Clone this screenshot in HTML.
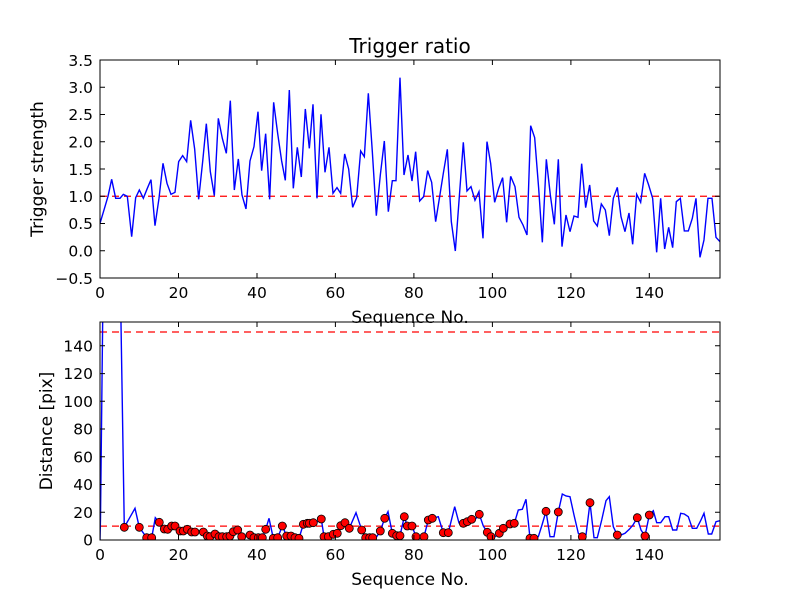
<!DOCTYPE html>
<html><head><meta charset="utf-8"><style>
body{margin:0;background:#fff;}
svg{display:block;font-family:"DejaVu Sans","Liberation Sans",sans-serif;}
</style></head><body>
<svg width="800" height="600" viewBox="0 0 800 600" xmlns="http://www.w3.org/2000/svg">
<rect width="800" height="600" fill="#fff"/>
<defs>
<clipPath id="c1"><rect x="100" y="60" width="620" height="218"/></clipPath>
<clipPath id="c2"><rect x="100" y="322" width="620" height="218"/></clipPath>
</defs>
<!-- TOP -->
<g clip-path="url(#c1)">
<line x1="100" y1="196.25" x2="720" y2="196.25" stroke="#f00" stroke-width="1.3" stroke-dasharray="7,5"/>
<g transform="translate(95,55) scale(0.3333)" fill="none" stroke="#00f">
<polyline vector-effect="non-scaling-stroke" stroke-width="1.4" points="15,505 27,465 39,424 50,373 62,430 75,430 85,418 97,424 110,545 122,428 133,405 145,430 157,400 168,374 180,512 192,430 204,325 216,385 228,418 240,412 251,320 263,302 275,320 287,196 299,282 311,433 323,320 334,206 346,350 358,422 370,190 382,250 394,295 406,137 418,405 430,312 441,420 453,462 465,318 477,275 489,170 500,347 512,236 524,433 536,142 548,235 560,318 571,376 583,105 595,400 607,277 619,366 631,162 643,280"/>
</g>
<g transform="translate(300,55) scale(0.3333)" fill="none" stroke="#00f">
<polyline vector-effect="non-scaling-stroke" stroke-width="1.4" points="28,280 39,148 51,430 63,178 75,352 87,277 99,415 111,398 122,415 134,297 146,342 158,457 170,428 182,288 193,305 205,115 217,290 229,482 241,360 253,258 265,470 277,377 288,377 300,68 312,360 324,300 336,378 347,290 359,438 371,425 383,347 395,382 407,500 419,425 430,355 442,283 454,500 466,588 478,425 490,262 501,408 513,395 525,436 537,410 549,550 561,260 572,325 584,442 596,400 608,368 620,502 632,364"/>
</g>
<g transform="translate(510,55) scale(0.3333)" fill="none" stroke="#00f">
<polyline vector-effect="non-scaling-stroke" stroke-width="1.4" points="2,364 15,395 27,487 39,510 51,540 62,212 74,248 86,400 97,562 109,313 121,420 133,508 145,313 156,575 168,480 180,530 192,483 204,487 215,326 227,458 239,390 251,498 262,513 274,447 286,465 298,542 310,430 322,397 333,485 345,530 357,474 368,568 380,418 392,442 404,355 416,390 428,430 440,592 452,430 464,582 476,517 488,578 499,440 511,430 523,528 535,528 547,490 558,430 570,607 582,555 594,430 606,430 618,547 630,560"/>
</g>
</g>
<rect x="100" y="60" width="620" height="218" fill="none" stroke="#000" stroke-width="1"/>
<g stroke="#000" stroke-width="1">
<path d="M100,60v5M100,278v-5M178.5,60v5M178.5,278v-5M257,60v5M257,278v-5M335.4,60v5M335.4,278v-5M413.9,60v5M413.9,278v-5M492.4,60v5M492.4,278v-5M570.9,60v5M570.9,278v-5M649.3,60v5M649.3,278v-5"/>
<path d="M100,87.25h5M720,87.25h-5M100,114.5h5M720,114.5h-5M100,141.75h5M720,141.75h-5M100,169h5M720,169h-5M100,196.25h5M720,196.25h-5M100,223.5h5M720,223.5h-5M100,250.75h5M720,250.75h-5"/>
</g>
<g font-size="15.5" text-anchor="end" fill="#000">
<text x="93" y="66">3.5</text><text x="93" y="93">3.0</text><text x="93" y="120">2.5</text><text x="93" y="147.5">2.0</text><text x="93" y="175">1.5</text><text x="93" y="202">1.0</text><text x="93" y="229">0.5</text><text x="93" y="256.5">0.0</text><text x="93" y="284">−0.5</text>
</g>
<g font-size="15.5" text-anchor="middle" fill="#000">
<text x="100" y="298">0</text><text x="178.5" y="298">20</text><text x="257" y="298">40</text><text x="335.4" y="298">60</text><text x="413.9" y="298">80</text><text x="492.4" y="298">100</text><text x="570.9" y="298">120</text><text x="649.3" y="298">140</text>
</g>
<g font-size="17" text-anchor="middle" fill="#000">
<text x="410" y="53" font-size="20">Trigger ratio</text>
<text x="410" y="323">Sequence No.</text>
<text x="410" y="585">Sequence No.</text>
<text transform="translate(43,169) rotate(-90)">Trigger strength</text>
<text transform="translate(52,431) rotate(-90)">Distance [pix]</text>
</g>
<!-- BOTTOM -->
<g clip-path="url(#c2)">
<line x1="100" y1="526.1" x2="720" y2="526.1" stroke="#f00" stroke-width="1.3" stroke-dasharray="7,5"/>
<line x1="100" y1="332" x2="720" y2="332" stroke="#f00" stroke-width="1.3" stroke-dasharray="7,5"/>
<polyline fill="none" stroke="#00f" stroke-width="1.4" points="100,540 100.5,518 104,200 119,200 124.3,527.3 135,508.3 139.3,527.3 146.7,537.7 151.7,537.7 155.3,517.7 159.3,522.3 164.3,529 167.7,529.3 171.7,526 175,526 180,531 183.3,531 187.3,529.3 191.7,532 195,532 199,532 203.3,532 207.3,536 210,536.7 215,534 219,536.7 222.3,536.7 226.7,536.7 230,536 233.3,531.7 237.7,530 241.7,536.7 246,536 250,535 254,537.7 258.3,537.7 262.3,537.7 265.7,529.3 269,518.3 273.3,538.3 277.7,537.7 282.3,526 286.7,536 291,536 295,537.7 299,538.3 303.3,524.3 307.3,523.3 309.3,523.3 313.3,522.7 317,522 321.3,519 324,536.7 328.3,536.7 333.3,534.3 337.3,533.3 340.7,525.7 345,522.7 349.3,528.3 356,512.7 361.7,530 365.7,537.7 369.7,537.7 372.7,537.7 376.5,537 380.3,531 384.7,518.3 388,511.7 392.3,533.3 396.7,535.7 400,535.7 404.3,516.7 407.3,526 412,526 416,536.7 420,536.7 424,536.7 428.3,520 432.3,518.3 438.3,516.7 443.3,532.7 448.3,532.7 454.7,506.7 459,523 463.3,523.3 467.3,521.7 471.7,519.3 475.5,519 479.3,514.3 483.3,526 487.3,532.3 491,536.7 495,536.7 499.3,533.3 503.3,528.3 507,525 510,524 514.3,523.3 518.3,510 522.3,509.3 526,499.3 530,538.3 534,538.3 538.3,536.7 542,525 546,511.3 550,536.7 554,536.7 558.3,512 562.3,494 566,496 570,496.7 574,515 578.3,533.3 582.3,536.7 586,535 590,502.7 594,537.7 597.3,537.7 601.7,520 606,500.7 609.3,496.7 613.3,526.7 617.3,535 621,535 625,533.3 629.3,529.3 633,525 637.3,517.7 641,530 645,536 649.3,515 653.3,510.7 656.7,522.7 660.7,522.7 665,516.7 668.7,516.7 672.7,530 676.7,530 680.7,513.3 684.3,514 688.3,516.7 692.3,528.3 696.7,528.3 700.5,521 704,513.3 708.3,534 711.7,534 716,521.7 720,520.7"/>
<g fill="#f00" stroke="#000" stroke-width="0.8">
<circle cx="124.3" cy="527.3" r="4"/><circle cx="139.3" cy="527.3" r="4"/><circle cx="146.7" cy="537.7" r="4"/><circle cx="151.7" cy="537.7" r="4"/><circle cx="159.3" cy="522.3" r="4"/><circle cx="164.3" cy="529" r="4"/><circle cx="167.7" cy="529.3" r="4"/><circle cx="171.7" cy="526" r="4"/><circle cx="175" cy="526" r="4"/><circle cx="180" cy="531" r="4"/><circle cx="183.3" cy="531" r="4"/><circle cx="187.3" cy="529.3" r="4"/><circle cx="191.7" cy="532" r="4"/><circle cx="195" cy="532" r="4"/><circle cx="203.3" cy="532" r="4"/><circle cx="207.3" cy="536" r="4"/><circle cx="210" cy="536.7" r="4"/><circle cx="215" cy="534" r="4"/><circle cx="219" cy="536.7" r="4"/><circle cx="222.3" cy="536.7" r="4"/><circle cx="226.7" cy="536.7" r="4"/><circle cx="230" cy="536" r="4"/><circle cx="233.3" cy="531.7" r="4"/><circle cx="237.7" cy="530" r="4"/><circle cx="241.7" cy="536.7" r="4"/><circle cx="250" cy="535" r="4"/><circle cx="254" cy="537.7" r="4"/><circle cx="258.3" cy="537.7" r="4"/><circle cx="262.3" cy="537.7" r="4"/><circle cx="265.7" cy="529.3" r="4"/><circle cx="273.3" cy="538.3" r="4"/><circle cx="277.7" cy="537.7" r="4"/><circle cx="282.3" cy="526" r="4"/><circle cx="286.7" cy="536" r="4"/><circle cx="291" cy="536" r="4"/><circle cx="295" cy="537.7" r="4"/><circle cx="299" cy="538.3" r="4"/><circle cx="303.3" cy="524.3" r="4"/><circle cx="307.3" cy="523.3" r="4"/>
<circle cx="309.3" cy="523.3" r="4"/><circle cx="313.3" cy="522.7" r="4"/><circle cx="321.3" cy="519" r="4"/><circle cx="324" cy="536.7" r="4"/><circle cx="328.3" cy="536.7" r="4"/><circle cx="333.3" cy="534.3" r="4"/><circle cx="337.3" cy="533.3" r="4"/><circle cx="340.7" cy="525.7" r="4"/><circle cx="345" cy="522.7" r="4"/><circle cx="349.3" cy="528.3" r="4"/><circle cx="361.7" cy="530" r="4"/><circle cx="365.7" cy="537.7" r="4"/><circle cx="369.7" cy="537.7" r="4"/><circle cx="372.7" cy="537.7" r="4"/><circle cx="380.3" cy="531" r="4"/><circle cx="384.7" cy="518.3" r="4"/><circle cx="392.3" cy="533.3" r="4"/><circle cx="396.7" cy="535.7" r="4"/><circle cx="400" cy="535.7" r="4"/><circle cx="404.3" cy="516.7" r="4"/><circle cx="407.3" cy="526" r="4"/><circle cx="412" cy="526" r="4"/><circle cx="416" cy="536.7" r="4"/><circle cx="424" cy="536.7" r="4"/><circle cx="428.3" cy="520" r="4"/><circle cx="432.3" cy="518.3" r="4"/><circle cx="443.3" cy="532.7" r="4"/><circle cx="448.3" cy="532.7" r="4"/><circle cx="463.3" cy="523.3" r="4"/><circle cx="467.3" cy="521.7" r="4"/><circle cx="471.7" cy="519.3" r="4"/><circle cx="479.3" cy="514.3" r="4"/><circle cx="487.3" cy="532.3" r="4"/><circle cx="491" cy="536.7" r="4"/><circle cx="499.3" cy="533.3" r="4"/><circle cx="503.3" cy="528.3" r="4"/><circle cx="510" cy="524" r="4"/><circle cx="514.3" cy="523.3" r="4"/>
<circle cx="530" cy="538.3" r="4"/><circle cx="534" cy="538.3" r="4"/><circle cx="546" cy="511.3" r="4"/><circle cx="558.3" cy="512" r="4"/><circle cx="582.3" cy="536.7" r="4"/><circle cx="590" cy="502.7" r="4"/><circle cx="617.3" cy="535" r="4"/><circle cx="637.3" cy="517.7" r="4"/><circle cx="645" cy="536" r="4"/><circle cx="649.3" cy="515" r="4"/>
</g>
</g>
<rect x="100" y="322" width="620" height="218" fill="none" stroke="#000" stroke-width="1"/>
<g stroke="#000" stroke-width="1">
<path d="M100,322v5M100,540v-5M178.5,322v5M178.5,540v-5M257,322v5M257,540v-5M335.4,322v5M335.4,540v-5M413.9,322v5M413.9,540v-5M492.4,322v5M492.4,540v-5M570.9,322v5M570.9,540v-5M649.3,322v5M649.3,540v-5"/>
<path d="M100,512.3h5M720,512.3h-5M100,484.5h5M720,484.5h-5M100,456.8h5M720,456.8h-5M100,429h5M720,429h-5M100,401.3h5M720,401.3h-5M100,373.6h5M720,373.6h-5M100,345.8h5M720,345.8h-5"/>
</g>
<g font-size="15.5" text-anchor="end" fill="#000">
<text x="93" y="545.5">0</text><text x="93" y="518">20</text><text x="93" y="490">40</text><text x="93" y="462.5">60</text><text x="93" y="434.5">80</text><text x="93" y="407">100</text><text x="93" y="379">120</text><text x="93" y="351.5">140</text>
</g>
<g font-size="15.5" text-anchor="middle" fill="#000">
<text x="100" y="560">0</text><text x="178.5" y="560">20</text><text x="257" y="560">40</text><text x="335.4" y="560">60</text><text x="413.9" y="560">80</text><text x="492.4" y="560">100</text><text x="570.9" y="560">120</text><text x="649.3" y="560">140</text>
</g>
</svg>
</body></html>
